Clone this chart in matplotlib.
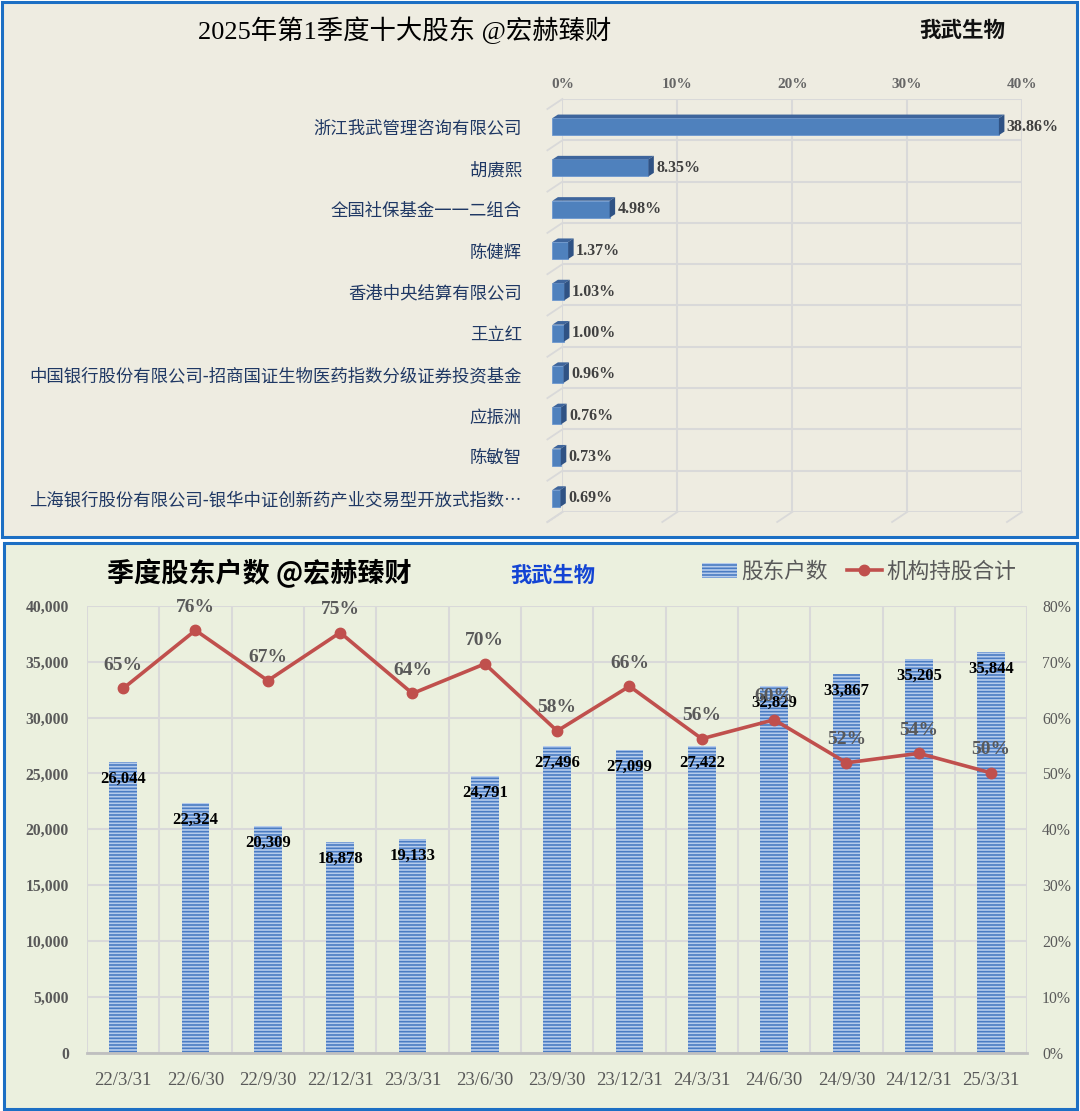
import matplotlib
matplotlib.use('Agg')
import matplotlib.pyplot as plt
from matplotlib.patches import Rectangle, Polygon
import numpy as np

W, H, DPI = 1080, 1111, 100

# ---------------- data ----------------
holders = ['浙江我武管理咨询有限公司', '胡赓熙', '全国社保基金一一二组合', '陈健辉',
           '香港中央结算有限公司', '王立红',
           '中国银行股份有限公司-招商国证生物医药指数分级证券投资基金',
           '应振洲', '陈敏智',
           '上海银行股份有限公司-银华中证创新药产业交易型开放式指数…']
holder_pct = [38.86, 8.35, 4.98, 1.37, 1.03, 1.00, 0.96, 0.76, 0.73, 0.69]
pct_ticks = [0, 10, 20, 30, 40]

quarters = ['22/3/31', '22/6/30', '22/9/30', '22/12/31', '23/3/31', '23/6/30', '23/9/30',
            '23/12/31', '24/3/31', '24/6/30', '24/9/30', '24/12/31', '25/3/31']
holders_count = [26044, 22324, 20309, 18878, 19133, 24791, 27496, 27099, 27422,
                 32829, 33867, 35205, 35844]
inst_pct = [65.2, 75.6, 66.6, 75.2, 64.3, 69.6, 57.6, 65.6, 56.2, 59.6, 51.9, 53.6, 50.1]
count_ticks = list(range(0, 40001, 5000))
inst_ticks = list(range(0, 81, 10))

SERIF = ['Liberation Serif', 'Noto Sans CJK SC']
CJK = ['Noto Sans CJK SC', 'DejaVu Sans']
plt.rcParams['font.family'] = CJK
plt.rcParams['hatch.linewidth'] = 1.2

fig = plt.figure(figsize=(W / DPI, H / DPI), dpi=DPI, facecolor='white')


def fx(px):
    return px / W


def fy(py):
    return 1 - py / H


# ---------------- panels ----------------
fig.add_artist(Rectangle((fx(1.5), fy(536.5)), fx(1077) - fx(1.5), fy(1.5) - fy(536.5),
                         transform=fig.transFigure, facecolor='#EEECE1',
                         edgecolor='#1C6FC4', lw=2.2, zorder=0))
fig.add_artist(Rectangle((fx(3.5), fy(1108.5)), fx(1077) - fx(3.5), fy(542.5) - fy(1108.5),
                         transform=fig.transFigure, facecolor='#EBF0DE',
                         edgecolor='#1C6FC4', lw=2.2, zorder=0))

# ---------------- top chart ----------------
L1, R1, T1, B1 = 562.4, 1022.0, 99.0, 512.0
ax1 = fig.add_axes([fx(L1), fy(B1), fx(R1) - fx(L1), fy(T1) - fy(B1)])
ax1.set_xlim(0, 40)
ax1.set_ylim(10, 0)
ax1.patch.set_alpha(0)
for s in ax1.spines.values():
    s.set_visible(False)

pxx = (R1 - L1) / 40.0
pxy = (B1 - T1) / 10.0
grid_c = '#D9D9D9'
for t in pct_ticks:
    ax1.axvline(t, color=grid_c, lw=1.5, zorder=1)
for k in range(11):
    ax1.axhline(k, color=grid_c, lw=1.5, zorder=1)
DX, DY = 15 / pxx, 10 / pxy
for k in range(11):
    ax1.plot([0, -DX], [k, k + DY], color=grid_c, lw=1.3, clip_on=False, zorder=1)
for t in pct_ticks:
    ax1.plot([t, t - DX], [10, 10 + DY], color=grid_c, lw=1.3, clip_on=False, zorder=1)

offx, offy = 10 / pxx, 7 / pxy
bh = 17 / pxy
ypos = [i + 0.5 + offy for i in range(len(holders))]
bars1 = ax1.barh(ypos, holder_pct, left=-offx, height=bh, color='#4F81BD',
                 edgecolor='#6C98D0', lw=0.6, zorder=3, clip_on=False)
tdx, tdy = 5.5 / pxx, 3.6 / pxy
for p, v in zip(bars1.patches, holder_pct):
    x0 = p.get_x()
    x1 = x0 + p.get_width()
    yt = p.get_y()
    yb = yt + p.get_height()
    ax1.add_patch(Polygon([(x0, yt), (x1, yt), (x1 + tdx, yt - tdy), (x0 + tdx, yt - tdy)],
                          closed=True, facecolor='#3E659C', edgecolor='none',
                          zorder=3, clip_on=False))
    ax1.add_patch(Polygon([(x1, yt), (x1 + tdx, yt - tdy), (x1 + tdx, yb - tdy), (x1, yb)],
                          closed=True, facecolor='#2F5284', edgecolor='none',
                          zorder=3, clip_on=False))
    ax1.text(x1 + tdx + 0.2, yt + p.get_height() / 2, f'{v:.2f}%', ha='left', va='center',
             fontsize=11.5, fontweight='bold', color='#404040', family=SERIF,
             zorder=4, clip_on=False)

ax1.set_yticks(ypos)
ax1.set_yticklabels(holders, fontsize=12.5, color='#1F3864', family=CJK)
ax1.tick_params(axis='y', length=0, pad=29.3)
ax1.xaxis.tick_top()
ax1.set_xticks(pct_ticks)
ax1.set_xticklabels([f'{t}%' for t in pct_ticks], fontsize=11, fontweight='bold',
                    color='#666666', family=SERIF)
ax1.tick_params(axis='x', length=0, pad=6)

fig.text(fx(405), fy(30), '2025年第1季度十大股东 @宏赫臻财', ha='center', va='center',
         fontsize=19, color='black', family=SERIF)
fig.text(fx(962), fy(30), '我武生物', ha='center', va='center', fontsize=15.5,
         fontweight='bold', color='#111111', family=CJK)

# ---------------- bottom chart ----------------
L2, R2, T2, B2 = 87.0, 1027.3, 605.7, 1053.0
ax2 = fig.add_axes([fx(L2), fy(B2), fx(R2) - fx(L2), fy(T2) - fy(B2)])
ax2.set_xlim(-0.5, len(quarters) - 0.5)
ax2.set_ylim(0, 40000)
ax2.patch.set_alpha(0)
ax2.set_axisbelow(True)
for name, s in ax2.spines.items():
    s.set_visible(name == 'bottom')
ax2.spines['bottom'].set_color('#BFBFBF')
ax2.spines['bottom'].set_linewidth(2)

xs = np.arange(len(quarters))
bars2 = ax2.bar(xs, holders_count, width=0.38, color='#B6CCEC', edgecolor='#4A7CC3',
                hatch='-----', lw=0, zorder=2)
for x, v in zip(xs, holders_count):
    ax2.annotate(f'{v:,}', (x, v), xytext=(0, -12.2), textcoords='offset points',
                 ha='center', va='center', fontsize=12, fontweight='bold', color='black',
                 family=SERIF, zorder=5)

ax2.set_yticks(count_ticks)
ax2.set_yticklabels([f'{t:,}' for t in count_ticks], fontsize=11.3, fontweight='bold',
                    color='#595959', family=SERIF)
ax2.set_xticks(xs)
ax2.set_xticklabels(quarters, fontsize=13.5, color='#595959', family=SERIF)
ax2.set_xticks(np.arange(-0.5, len(quarters), 1.0), minor=True)
ax2.tick_params(axis='both', which='both', length=0)
ax2.tick_params(axis='x', pad=13.4)
ax2.tick_params(axis='y', pad=13)
ax2.grid(axis='y', which='major', color=grid_c, lw=1.5)
ax2.grid(axis='x', which='minor', color=grid_c, lw=1.5)
ax2.grid(axis='x', which='major', visible=False)

ax3 = ax2.twinx()
ax3.set_ylim(0, 80)
for s in ax3.spines.values():
    s.set_visible(False)
line, = ax3.plot(xs, inst_pct, color='#C0504D', lw=2.6, marker='o', ms=7.5, zorder=4)
for x, v in zip(xs, inst_pct):
    ax3.annotate(f'{v:.0f}%', (x, v), xytext=(0, 16.6), textcoords='offset points',
                 ha='center', va='center', fontsize=14, fontweight='bold',
                 color='#595959', family=SERIF)
ax3.set_yticks(inst_ticks)
ax3.set_yticklabels([f'{t}%' for t in inst_ticks], fontsize=11.3, color='#595959',
                    family=SERIF)
ax3.tick_params(axis='y', length=0, pad=10.6)

fig.text(fx(259), fy(573), '季度股东户数 @宏赫臻财', ha='center', va='center',
         fontsize=19.5, fontweight='bold', color='black', family=CJK)
fig.text(fx(553), fy(575), '我武生物', ha='center', va='center', fontsize=15.3,
         fontweight='bold', color='#1344D4', family=CJK)

ax3.legend(handles=[bars2, line], labels=['股东户数', '机构持股合计'], loc='center left',
           bbox_to_anchor=(fx(702), fy(572)), bbox_transform=fig.transFigure, ncol=2,
           frameon=False, prop={'family': CJK, 'size': 15.6}, labelcolor='#595959',
           handlelength=1.6, handletextpad=0.2, columnspacing=0.9, borderpad=0,
           borderaxespad=0)

fig.savefig('out.png', dpi=DPI, facecolor='white')
